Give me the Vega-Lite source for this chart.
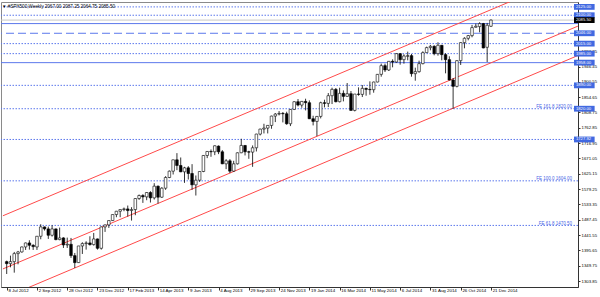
{
 "$schema": "https://vega.github.io/schema/vega-lite/v6.json",
 "width": 577, "height": 285,
 "autosize": "none",
 "padding": {"left": 1, "top": 2, "right": 22, "bottom": 10},
 "background": "white",
 "config": {"view": {"stroke": "#8a8a8a", "strokeWidth": 1}, "font": "Liberation Sans", "axis": {"labelOverlap": false, "labelFlush": false, "labelBound": false}},
 "title": {"text": "▼  #SPX500,Weekly  2067.00 2087.25 2064.75 2085.50", "anchor": "start", "frame": "group", "offset": -7, "fontSize": 4.6, "fontWeight": "normal", "font": "Liberation Sans", "color": "black", "dx": 1},
 "datasets": {
  "candles": [
   {"d":"2012-07-08","o":1362,"h":1365,"l":1325,"c":1356},
   {"d":"2012-07-15","o":1356,"h":1380,"l":1345,"c":1362},
   {"d":"2012-07-22","o":1362,"h":1391,"l":1329,"c":1386},
   {"d":"2012-07-29","o":1386,"h":1394,"l":1354,"c":1391},
   {"d":"2012-08-05","o":1391,"h":1407,"l":1389,"c":1406},
   {"d":"2012-08-12","o":1406,"h":1419,"l":1397,"c":1418},
   {"d":"2012-08-19","o":1418,"h":1426,"l":1398,"c":1411},
   {"d":"2012-08-26","o":1411,"h":1414,"l":1397,"c":1407},
   {"d":"2012-09-02","o":1406,"h":1438,"l":1397,"c":1438},
   {"d":"2012-09-09","o":1438,"h":1474,"l":1429,"c":1466},
   {"d":"2012-09-16","o":1466,"h":1467,"l":1455,"c":1460},
   {"d":"2012-09-23","o":1460,"h":1467,"l":1430,"c":1441},
   {"d":"2012-09-30","o":1441,"h":1471,"l":1437,"c":1460},
   {"d":"2012-10-07","o":1460,"h":1461,"l":1426,"c":1428},
   {"d":"2012-10-14","o":1428,"h":1464,"l":1426,"c":1433},
   {"d":"2012-10-21","o":1433,"h":1435,"l":1403,"c":1412},
   {"d":"2012-10-28","o":1412,"h":1434,"l":1403,"c":1414},
   {"d":"2012-11-04","o":1414,"h":1433,"l":1373,"c":1380},
   {"d":"2012-11-11","o":1380,"h":1388,"l":1343,"c":1359},
   {"d":"2012-11-18","o":1359,"h":1409,"l":1358,"c":1409},
   {"d":"2012-11-25","o":1409,"h":1420,"l":1385,"c":1416},
   {"d":"2012-12-02","o":1416,"h":1423,"l":1398,"c":1418},
   {"d":"2012-12-09","o":1418,"h":1438,"l":1410,"c":1413},
   {"d":"2012-12-16","o":1413,"h":1448,"l":1410,"c":1430},
   {"d":"2012-12-23","o":1430,"h":1431,"l":1398,"c":1402},
   {"d":"2012-12-30","o":1402,"h":1467,"l":1398,"c":1466},
   {"d":"2013-01-06","o":1466,"h":1473,"l":1451,"c":1472},
   {"d":"2013-01-13","o":1472,"h":1485,"l":1463,"c":1485},
   {"d":"2013-01-20","o":1485,"h":1503,"l":1484,"c":1503},
   {"d":"2013-01-27","o":1503,"h":1514,"l":1495,"c":1513},
   {"d":"2013-02-03","o":1513,"h":1518,"l":1495,"c":1518},
   {"d":"2013-02-10","o":1518,"h":1524,"l":1513,"c":1520},
   {"d":"2013-02-17","o":1520,"h":1530,"l":1497,"c":1515},
   {"d":"2013-02-24","o":1515,"h":1525,"l":1485,"c":1518},
   {"d":"2013-03-03","o":1518,"h":1552,"l":1501,"c":1551},
   {"d":"2013-03-10","o":1551,"h":1563,"l":1547,"c":1560},
   {"d":"2013-03-17","o":1560,"h":1564,"l":1538,"c":1556},
   {"d":"2013-03-24","o":1556,"h":1570,"l":1546,"c":1569},
   {"d":"2013-03-31","o":1569,"h":1573,"l":1539,"c":1553},
   {"d":"2013-04-07","o":1553,"h":1597,"l":1548,"c":1588},
   {"d":"2013-04-14","o":1588,"h":1590,"l":1536,"c":1555},
   {"d":"2013-04-21","o":1555,"h":1585,"l":1553,"c":1582},
   {"d":"2013-04-28","o":1582,"h":1618,"l":1577,"c":1614},
   {"d":"2013-05-05","o":1614,"h":1635,"l":1612,"c":1633},
   {"d":"2013-05-12","o":1633,"h":1667,"l":1623,"c":1667},
   {"d":"2013-05-19","o":1667,"h":1687,"l":1636,"c":1650},
   {"d":"2013-05-26","o":1650,"h":1674,"l":1630,"c":1631},
   {"d":"2013-06-02","o":1631,"h":1646,"l":1598,"c":1643},
   {"d":"2013-06-09","o":1643,"h":1648,"l":1608,"c":1626},
   {"d":"2013-06-16","o":1626,"h":1654,"l":1577,"c":1592},
   {"d":"2013-06-23","o":1592,"h":1620,"l":1560,"c":1606},
   {"d":"2013-06-30","o":1606,"h":1632,"l":1601,"c":1632},
   {"d":"2013-07-07","o":1632,"h":1681,"l":1630,"c":1680},
   {"d":"2013-07-14","o":1680,"h":1693,"l":1672,"c":1692},
   {"d":"2013-07-21","o":1692,"h":1698,"l":1676,"c":1691},
   {"d":"2013-07-28","o":1691,"h":1710,"l":1681,"c":1709},
   {"d":"2013-08-04","o":1708,"h":1710,"l":1684,"c":1691},
   {"d":"2013-08-11","o":1691,"h":1696,"l":1654,"c":1655},
   {"d":"2013-08-18","o":1655,"h":1669,"l":1639,"c":1664},
   {"d":"2013-08-25","o":1664,"h":1669,"l":1627,"c":1633},
   {"d":"2013-09-01","o":1633,"h":1664,"l":1631,"c":1655},
   {"d":"2013-09-08","o":1655,"h":1689,"l":1653,"c":1688},
   {"d":"2013-09-15","o":1688,"h":1730,"l":1687,"c":1710},
   {"d":"2013-09-22","o":1710,"h":1711,"l":1680,"c":1691},
   {"d":"2013-09-29","o":1691,"h":1694,"l":1670,"c":1690},
   {"d":"2013-10-06","o":1690,"h":1710,"l":1646,"c":1703},
   {"d":"2013-10-13","o":1703,"h":1745,"l":1692,"c":1744},
   {"d":"2013-10-20","o":1744,"h":1760,"l":1740,"c":1759},
   {"d":"2013-10-27","o":1759,"h":1775,"l":1746,"c":1762},
   {"d":"2013-11-03","o":1762,"h":1770,"l":1746,"c":1770},
   {"d":"2013-11-10","o":1770,"h":1799,"l":1760,"c":1798},
   {"d":"2013-11-17","o":1798,"h":1807,"l":1780,"c":1804},
   {"d":"2013-11-24","o":1804,"h":1813,"l":1800,"c":1806},
   {"d":"2013-12-01","o":1806,"h":1810,"l":1779,"c":1805},
   {"d":"2013-12-08","o":1805,"h":1811,"l":1772,"c":1775},
   {"d":"2013-12-15","o":1775,"h":1819,"l":1768,"c":1818},
   {"d":"2013-12-22","o":1818,"h":1842,"l":1816,"c":1841},
   {"d":"2013-12-29","o":1841,"h":1849,"l":1827,"c":1831},
   {"d":"2014-01-05","o":1831,"h":1843,"l":1823,"c":1842},
   {"d":"2014-01-12","o":1842,"h":1850,"l":1815,"c":1838},
   {"d":"2014-01-19","o":1838,"h":1845,"l":1789,"c":1790},
   {"d":"2014-01-26","o":1790,"h":1799,"l":1770,"c":1782},
   {"d":"2014-02-02","o":1782,"h":1798,"l":1738,"c":1797},
   {"d":"2014-02-09","o":1797,"h":1841,"l":1791,"c":1838},
   {"d":"2014-02-16","o":1838,"h":1847,"l":1824,"c":1836},
   {"d":"2014-02-23","o":1836,"h":1867,"l":1825,"c":1859},
   {"d":"2014-03-02","o":1859,"h":1883,"l":1834,"c":1878},
   {"d":"2014-03-09","o":1878,"h":1882,"l":1839,"c":1841},
   {"d":"2014-03-16","o":1841,"h":1883,"l":1839,"c":1866},
   {"d":"2014-03-23","o":1866,"h":1875,"l":1842,"c":1857},
   {"d":"2014-03-30","o":1857,"h":1897,"l":1856,"c":1865},
   {"d":"2014-04-06","o":1865,"h":1873,"l":1814,"c":1815},
   {"d":"2014-04-13","o":1815,"h":1864,"l":1812,"c":1864},
   {"d":"2014-04-20","o":1864,"h":1884,"l":1859,"c":1863},
   {"d":"2014-04-27","o":1863,"h":1891,"l":1855,"c":1881},
   {"d":"2014-05-04","o":1881,"h":1883,"l":1859,"c":1878},
   {"d":"2014-05-11","o":1878,"h":1902,"l":1862,"c":1877},
   {"d":"2014-05-18","o":1877,"h":1901,"l":1868,"c":1900},
   {"d":"2014-05-25","o":1900,"h":1924,"l":1899,"c":1923},
   {"d":"2014-06-01","o":1923,"h":1955,"l":1916,"c":1949},
   {"d":"2014-06-08","o":1949,"h":1955,"l":1930,"c":1936},
   {"d":"2014-06-15","o":1936,"h":1963,"l":1933,"c":1962},
   {"d":"2014-06-22","o":1962,"h":1968,"l":1944,"c":1960},
   {"d":"2014-06-29","o":1960,"h":1986,"l":1958,"c":1985},
   {"d":"2014-07-06","o":1985,"h":1986,"l":1952,"c":1967},
   {"d":"2014-07-13","o":1967,"h":1983,"l":1955,"c":1978},
   {"d":"2014-07-20","o":1977,"h":1991,"l":1965,"c":1979},
   {"d":"2014-07-27","o":1979,"h":1984,"l":1916,"c":1925},
   {"d":"2014-08-03","o":1925,"h":1943,"l":1904,"c":1931},
   {"d":"2014-08-10","o":1931,"h":1964,"l":1928,"c":1955},
   {"d":"2014-08-17","o":1955,"h":1992,"l":1953,"c":1988},
   {"d":"2014-08-24","o":1988,"h":2006,"l":1988,"c":2003},
   {"d":"2014-08-31","o":2003,"h":2011,"l":1995,"c":2007},
   {"d":"2014-09-07","o":2007,"h":2010,"l":1980,"c":1985},
   {"d":"2014-09-14","o":1985,"h":2019,"l":1979,"c":2010},
   {"d":"2014-09-21","o":2010,"h":2011,"l":1965,"c":1982},
   {"d":"2014-09-28","o":1982,"h":1986,"l":1926,"c":1967},
   {"d":"2014-10-05","o":1967,"h":1977,"l":1905,"c":1906},
   {"d":"2014-10-12","o":1906,"h":1912,"l":1820,"c":1887},
   {"d":"2014-10-19","o":1887,"h":1965,"l":1884,"c":1964},
   {"d":"2014-10-26","o":1964,"h":2019,"l":1951,"c":2018},
   {"d":"2014-11-02","o":2018,"h":2034,"l":2001,"c":2031},
   {"d":"2014-11-09","o":2031,"h":2041,"l":2025,"c":2039},
   {"d":"2014-11-16","o":2039,"h":2071,"l":2034,"c":2063},
   {"d":"2014-11-23","o":2064,"h":2075,"l":2063,"c":2067},
   {"d":"2014-11-30","o":2066,"h":2079,"l":2049,"c":2075},
   {"d":"2014-12-07","o":2075,"h":2077,"l":2001,"c":2002},
   {"d":"2014-12-14","o":2004,"h":2077,"l":1960,"c":2070},
   {"d":"2014-12-21","o":2067,"h":2087.25,"l":2064.75,"c":2085.5}
  ]
 },
 "layer": [
  {
   "data": {"values": [{"v":2125},{"v":2100},{"v":2015},{"v":1985},{"v":1890},{"v":1820},{"v":1727.92},{"v":1604},{"v":1470.5}]},
   "mark": {"type": "rule", "color": "#5c78ec", "strokeWidth": 1, "strokeDash": [1.5, 1.5]},
   "encoding": {"y": {"field": "v", "type": "quantitative", "scale": {"domain": [1301, 2124.7], "nice": false, "zero": false}}}
  },
  {
   "data": {"values": [{"v":2046}]},
   "mark": {"type": "rule", "color": "#5c78ec", "strokeWidth": 1, "strokeDash": [8, 4]},
   "encoding": {"y": {"field": "v", "type": "quantitative", "scale": {"domain": [1301, 2124.7], "nice": false, "zero": false}}}
  },
  {
   "data": {"values": [{"v":2075},{"v":1958}]},
   "mark": {"type": "rule", "color": "#5c78ec", "strokeWidth": 1},
   "encoding": {"y": {"field": "v", "type": "quantitative", "scale": {"domain": [1301, 2124.7], "nice": false, "zero": false}}}
  },
  {
   "data": {"values": [{"v":2085.5}]},
   "mark": {"type": "rule", "color": "#c8c8c8", "strokeWidth": 1},
   "encoding": {"y": {"field": "v", "type": "quantitative", "scale": {"domain": [1301, 2124.7], "nice": false, "zero": false}}}
  },
  {
   "data": {"values": [
     {"line":"upper","d":"2012-07-01","v":1499.3},{"line":"upper","d":"2015-03-15","v":2174.0},
     {"line":"middle","d":"2012-07-01","v":1340.2},{"line":"middle","d":"2015-05-31","v":2067.5},
     {"line":"lower","d":"2012-07-01","v":1252.1},{"line":"lower","d":"2015-05-31","v":1979.4}
   ]},
   "mark": {"type": "line", "color": "#ff4a4a", "strokeWidth": 1, "clip": true},
   "encoding": {
    "x": {"field": "d", "type": "temporal", "scale": {"type": "utc", "domain": [1341595636364, 1432237090909]}},
    "y": {"field": "v", "type": "quantitative", "scale": {"domain": [1301, 2124.7], "nice": false, "zero": false}},
    "detail": {"field": "line", "type": "nominal"}
   }
  },
  {
   "data": {"name": "candles"},
   "mark": {"type": "rule", "color": "black", "strokeWidth": 0.8},
   "encoding": {
    "x": {"field": "d", "type": "temporal", "scale": {"type": "utc", "domain": [1341595636364, 1432237090909]}, "axis": {"orient": "bottom", "tickCount": 60, "values": [1341705600000,1346544000000,1351382400000,1356220800000,1361059200000,1365897600000,1370736000000,1375574400000,1380412800000,1385251200000,1390089600000,1394928000000,1399766400000,1404604800000,1409443200000,1414281600000,1419120000000], "format": "%-d %b %Y", "labelAlign": "left", "labelBaseline": "top", "labelFontSize": 4.4, "labelFont": "Liberation Sans", "labelPadding": -1.5, "labelOffset": 1.2, "tickSize": 3, "tickColor": "#333", "domainColor": "#333", "labelColor": "black", "grid": false, "title": null, "labelOverlap": false, "labelFlush": false, "labelBound": false}},
    "y": {"field": "l", "type": "quantitative", "scale": {"domain": [1301, 2124.7], "nice": false, "zero": false}, "axis": {"orient": "right", "tickCount": 60, "values": [1303.85,1349.75,1395.65,1441.55,1487.45,1533.35,1579.25,1625.15,1671.05,1716.95,1762.85,1808.75,1854.65,1900.55,1946.45,1992.35], "format": ".2f", "labelFontSize": 4.3, "labelFont": "Liberation Sans", "tickSize": 2, "labelPadding": 1, "labelAlign": "left", "labelBaseline": "middle", "domainColor": "#333", "tickColor": "#333", "labelColor": "black", "grid": false, "title": null, "labelOverlap": false, "labelFlush": false, "labelBound": false}},
    "y2": {"field": "h"}
   }
  },
  {
   "data": {"name": "candles"},
   "mark": {"type": "bar", "width": 2.6, "stroke": "black", "strokeWidth": 0.6},
   "encoding": {
    "x": {"field": "d", "type": "temporal", "scale": {"type": "utc", "domain": [1341595636364, 1432237090909]}},
    "y": {"field": "o", "type": "quantitative", "scale": {"domain": [1301, 2124.7], "nice": false, "zero": false}},
    "y2": {"field": "c"},
    "fill": {"condition": {"test": "datum.c >= datum.o", "value": "white"}, "value": "black"}
   }
  },
  {
   "data": {"values": [{"v":1820,"t":"FE 161.8 1820.00"},{"v":1604,"t":"FE 100.0 1604.00"},{"v":1470.5,"t":"FE 61.8 1470.50"}]},
   "mark": {"type": "text", "align": "right", "baseline": "bottom", "fontSize": 4.5, "font": "Liberation Sans", "color": "#4a66e6", "dy": 0.5},
   "encoding": {
    "x": {"datum": 1432080000000, "type": "temporal", "scale": {"type": "utc", "domain": [1341595636364, 1432237090909]}},
    "y": {"field": "v", "type": "quantitative", "scale": {"domain": [1301, 2124.7], "nice": false, "zero": false}},
    "text": {"field": "t"}
   }
  },
  {
   "data": {"values": [{"v":2125},{"v":2100},{"v":2046},{"v":2015},{"v":1985},{"v":1958},{"v":1890},{"v":1820},{"v":1727.92}]},
   "layer": [
    {"mark": {"type": "bar", "orient": "horizontal", "height": 5.8, "color": "#4169e1"},
     "encoding": {
      "x": {"datum": 1432394181766, "type": "temporal", "scale": {"type": "utc", "domain": [1341595636364, 1432237090909]}},
      "x2": {"datum": 1435693090855},
      "y": {"field": "v", "type": "quantitative", "scale": {"domain": [1301, 2124.7], "nice": false, "zero": false}}
     }},
    {"mark": {"type": "text", "align": "left", "baseline": "middle", "fontSize": 4.2, "font": "Liberation Sans", "color": "white"},
     "encoding": {
      "x": {"datum": 1432708363584, "type": "temporal", "scale": {"type": "utc", "domain": [1341595636364, 1432237090909]}},
      "y": {"field": "v", "type": "quantitative", "scale": {"domain": [1301, 2124.7], "nice": false, "zero": false}},
      "text": {"field": "v", "format": ".2f"}
     }}
   ]
  },
  {
   "data": {"values": [{"v":2085.5}]},
   "layer": [
    {"mark": {"type": "bar", "orient": "horizontal", "height": 5.8, "color": "black"},
     "encoding": {
      "x": {"datum": 1432394181766, "type": "temporal", "scale": {"type": "utc", "domain": [1341595636364, 1432237090909]}},
      "x2": {"datum": 1435693090855},
      "y": {"field": "v", "type": "quantitative", "scale": {"domain": [1301, 2124.7], "nice": false, "zero": false}}
     }},
    {"mark": {"type": "text", "align": "left", "baseline": "middle", "fontSize": 4.2, "font": "Liberation Sans", "color": "white"},
     "encoding": {
      "x": {"datum": 1432708363584, "type": "temporal", "scale": {"type": "utc", "domain": [1341595636364, 1432237090909]}},
      "y": {"field": "v", "type": "quantitative", "scale": {"domain": [1301, 2124.7], "nice": false, "zero": false}},
      "text": {"field": "v", "format": ".2f"}
     }}
   ]
  }
 ]
}
